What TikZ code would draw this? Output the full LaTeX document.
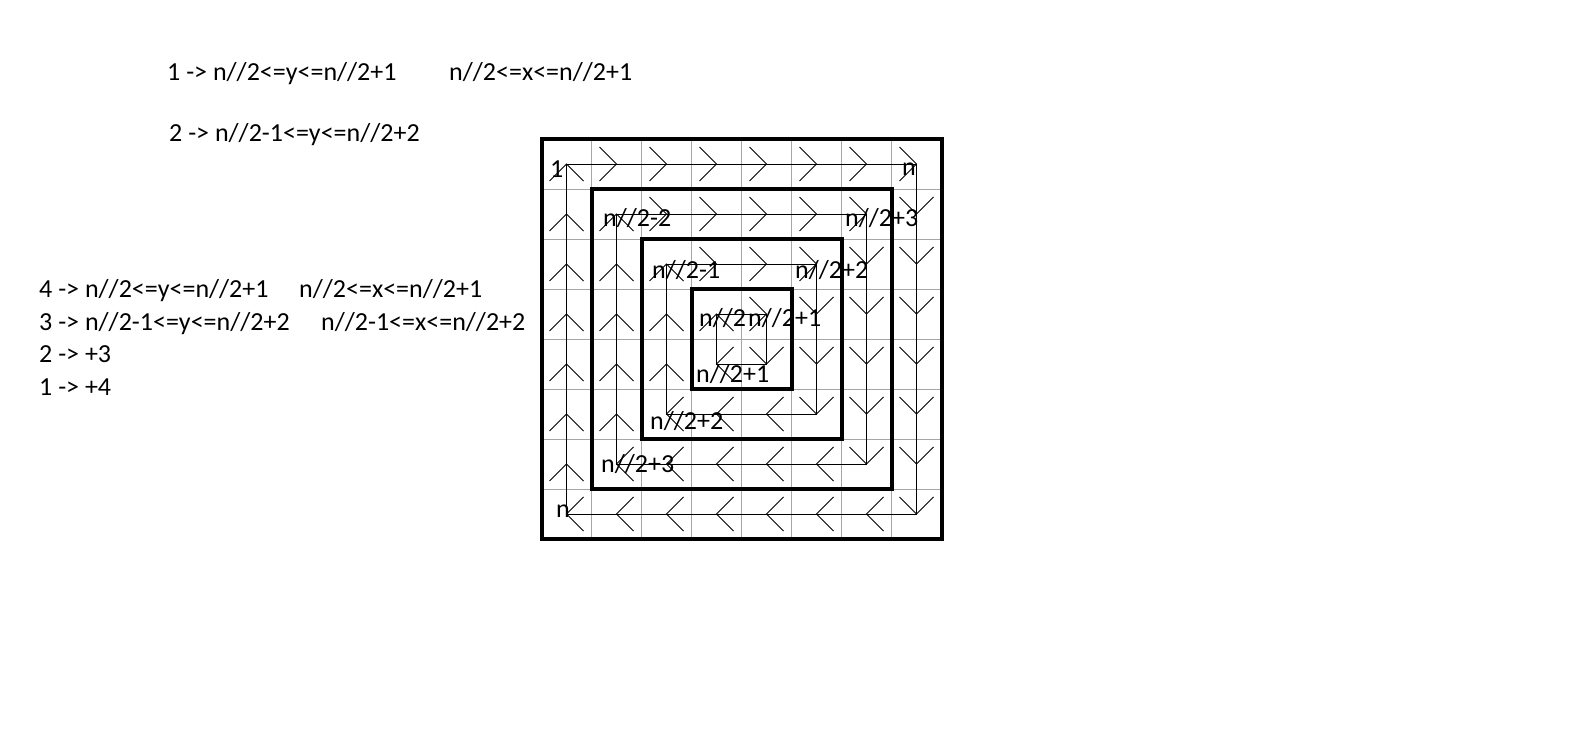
\documentclass[tikz,border=0pt]{standalone}
\usepackage{fontspec}
\setmainfont{Carlito}
\usetikzlibrary{positioning}

\begin{document}
\begin{tikzpicture}[x=1pt,y=-1pt,font=\fontsize{26}{30}\selectfont,
  cellline/.style={draw=gray!70,line width=1pt},
  ring/.style={draw,line width=4pt},
  track/.style={draw,line width=1pt},
  chev/.style={draw,line width=0.8pt},
  lbl/.style={inner sep=0pt,anchor=base west},
  note/.style={inner sep=0pt,anchor=base west}]
\useasboundingbox[fill=white] (0,0) rectangle (1594,755);

% notes above the board
\node[note] (o1) at (167,80) {1 -> n//2<=y<=n//2+1};
\node[note] (o1x) at (449,80) {n//2<=x<=n//2+1};
\node[note] (o2) at (169,141) {2 -> n//2-1<=y<=n//2+2};

% notes on the left
\node[note] (r4) at (39,297) {4 -> n//2<=y<=n//2+1};
\node[note] (r4x) at (299,297) {n//2<=x<=n//2+1};
\node[note] (r3) at (39,330) {3 -> n//2-1<=y<=n//2+2};
\node[note] (r3x) at (321,330) {n//2-1<=x<=n//2+2};
\node[note] (r2) at (39,362) {2 -> +3};
\node[note] (r1) at (39,395) {1 -> +4};

% the board, in cell units
\begin{scope}[shift={(541.5,139)},x=50pt,y=-50pt]
\foreach \i in {1,...,7} {
  \draw[cellline] (\i,0) -- (\i,8);
  \draw[cellline] (0,\i) -- (8,\i);
}
\foreach \k in {0,...,3} {
  \pgfmathtruncatemacro\lo{\k}
  \pgfmathtruncatemacro\hi{7-\k}
  \pgfmathtruncatemacro\lp{\k+1}
  \pgfmathtruncatemacro\hm{6-\k}
  \draw[track] (\lo+.5,\lo+.5) rectangle (\hi+.5,\hi+.5);
  % right along the top
  \foreach \i in {\lp,...,\hi}
    \draw[chev] (\i+.16,\lo+.16) -- (\i+.5,\lo+.5) -- (\i+.16,\lo+.84);
  % down the right side
  \foreach \j in {\lp,...,\hi}
    \draw[chev] (\hi+.16,\j+.16) -- (\hi+.5,\j+.5) -- (\hi+.84,\j+.16);
  % left along the bottom
  \foreach \i in {\lo,...,\hm}
    \draw[chev] (\i+.84,\hi+.16) -- (\i+.5,\hi+.5) -- (\i+.84,\hi+.84);
  % up the left side
  \foreach \j in {\lo,...,\hm}
    \draw[chev] (\lo+.16,\j+.84) -- (\lo+.5,\j+.5) -- (\lo+.84,\j+.84);
}
\foreach \k in {0,...,3}
  \draw[ring] (\k,\k) rectangle (8-\k,8-\k);
\end{scope}

% labels on the board
\node[lbl] (start) at (550,177) {1};
\node[lbl] (endtop) at (902,175) {n};
\node[lbl] (a2l) at (603,226) {n//2-2};
\node[lbl] (a2r) at (845,226) {n//2+3};
\node[lbl] (a3l) at (652,278) {n//2-1};
\node[lbl] (a3r) at (795,278) {n//2+2};
\node[lbl] (a4l) at (699,326) {n//2};
\node[lbl] (a4r) at (748,326) {n//2+1};
\node[lbl] (b4) at (696,382) {n//2+1};
\node[lbl] (b3) at (650,429) {n//2+2};
\node[lbl] (b2) at (601,472) {n//2+3};
\node[lbl] (endbot) at (556,517) {n};
\end{tikzpicture}
\end{document}
